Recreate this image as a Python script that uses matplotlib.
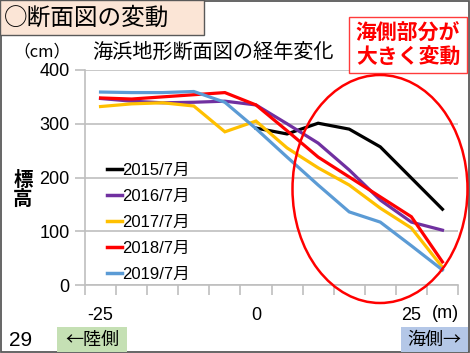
import numpy as np
import matplotlib
matplotlib.use('Agg')
import matplotlib.pyplot as plt
from matplotlib.patches import Rectangle, Ellipse

plt.rcParams['font.family'] = ['Liberation Sans', 'Noto Sans CJK JP']

# distance from the reference point (m)
dist = [-25, -20, -15, -10, -5, 0, 5, 10, 15, 20, 25, 30]

h2015 = [np.nan, np.nan, np.nan, np.nan, np.nan, 292, 281, 301, 290, 257, 199, 141]
h2016 = [347, 342, 339, 340, 342, 335, 300, 264, 214, 158, 117, 102]
h2017 = [332, 337, 339, 333, 285, 305, 255, 218, 186, 143, 106, 33]
h2018 = [348, 346, 350, 354, 358, 335, 287, 238, 201, 164, 127, 43]
h2019 = [359, 358, 358, 360, 340, 291, 238, 186, 136, 117, 73, 28]

labels = ['2015/7月', '2016/7月', '2017/7月', '2018/7月', '2019/7月']
colors = ['#000000', '#7030A0', '#FFC000', '#FF0000', '#5B9BD5']
series = [h2015, h2016, h2017, h2018, h2019]

W, H = 470, 353
def fx(x):
    return x / W
def fy(y):
    return 1 - y / H

fig = plt.figure(figsize=(4.7, 3.53), dpi=100)
ax = fig.add_axes([fx(85), fy(285), fx(458) - fx(85), fy(70) - fy(285)])

for s, c, lab in zip(series, colors, labels):
    ax.plot(dist, s, color=c, lw=2.3, label=lab, solid_joinstyle='miter')

ax.set_xlim(-27.5, 32.5)
ax.set_ylim(0, 400)
ax.set_yticks([0, 100, 200, 300, 400])
ax.yaxis.grid(True, color='#BFBFBF', lw=1.2)
ax.set_axisbelow(True)
ax.tick_params(axis='y', length=7, color='#BFBFBF', width=1.2, labelsize=13, pad=4)
ax.set_xticks([-25, 0, 25])
ax.set_xticklabels(['-25', '0', '25'])
ax.set_xticks(np.arange(-27.5, 33, 5), minor=True)
ax.tick_params(axis='x', which='major', length=0, labelsize=13, pad=16)
ax.tick_params(axis='x', which='minor', length=7, color='#BFBFBF', width=1.2)
for sp in ['top', 'right']:
    ax.spines[sp].set_visible(False)
for sp in ['left', 'bottom']:
    ax.spines[sp].set_color('#BFBFBF')
    ax.spines[sp].set_linewidth(1.2)

leg = ax.legend(loc='upper left', bbox_to_anchor=(fx(100), fy(156)), bbox_transform=fig.transFigure,
                frameon=False, fontsize=12, handlelength=0.9, handletextpad=0.05,
                labelspacing=0.66, borderaxespad=0)
for line in leg.get_lines():
    line.set_linewidth(2.5)

# outer frame
fig.add_artist(Rectangle((0.002, 0.003), 0.995, 0.994, transform=fig.transFigure,
                         fill=False, edgecolor='#595959', lw=1.3))

# title box
fig.add_artist(Rectangle((0, fy(35)), fx(204), fy(0) - fy(35), transform=fig.transFigure,
                         facecolor='#FBE5D6', edgecolor='#595959', lw=1.0))
fig.text(fx(4), fy(18), '○断面図の変動', fontsize=17, va='center', ha='left',
         family=['Noto Sans CJK JP'])

fig.text(fx(13), fy(52), '（cm）', fontsize=12, va='center', ha='left',
         family=['Noto Sans CJK JP'])
fig.text(fx(92), fy(52), '海浜地形断面図の経年変化', fontsize=14.5, va='center', ha='left',
         family=['Noto Sans CJK JP'])
fig.text(fx(23), fy(190), '標\n高', fontsize=14, va='center', ha='center', fontweight='bold',
         linespacing=1.0, family=['Noto Sans CJK JP'])
fig.text(fx(432), fy(313), '(m)', fontsize=13, va='center', ha='left')

# callout box
fig.add_artist(Rectangle((fx(349), fy(73)), fx(467) - fx(349), fy(17) - fy(73),
                         transform=fig.transFigure, facecolor='white', edgecolor='#FF3B3B', lw=1.0))
fig.text(fx(408), fy(45), '海側部分が\n大きく変動', fontsize=15, color='#FF0000', fontweight='bold',
         va='center', ha='center', linespacing=1.15, family=['Noto Sans CJK JP'])

# ellipse
fig.add_artist(Ellipse((fx(380), fy(189)), fx(175), 228 / H, transform=fig.transFigure,
                       fill=False, edgecolor='#FF0000', lw=1.8, zorder=5))

# bottom labels
fig.text(fx(9), fy(341), '29', fontsize=15, va='center', ha='left')
fig.add_artist(Rectangle((fx(57), fy(352)), fx(127) - fx(57), fy(327) - fy(352),
                         transform=fig.transFigure, facecolor='#C5E0B4', edgecolor='none'))
fig.text(fx(92), fy(340), '←陸側', fontsize=13, va='center', ha='center',
         family=['Noto Sans CJK JP'])
fig.add_artist(Rectangle((fx(401), fy(352)), fx(468) - fx(401), fy(327) - fy(352),
                         transform=fig.transFigure, facecolor='#B4C7E7', edgecolor='none'))
fig.text(fx(434), fy(340), '海側→', fontsize=13, va='center', ha='center',
         family=['Noto Sans CJK JP'])

fig.savefig('out.png', dpi=100)
